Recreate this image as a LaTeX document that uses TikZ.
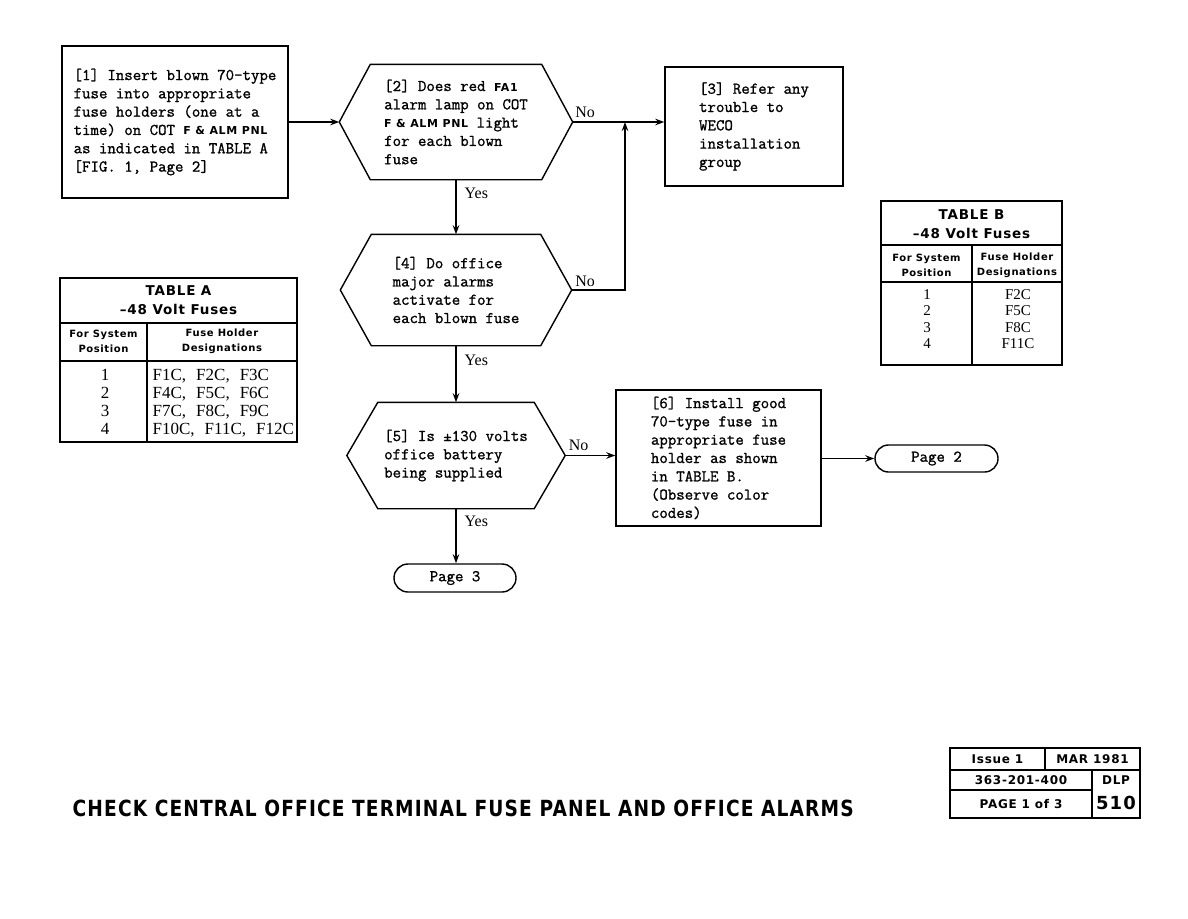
\documentclass[tikz,border=0pt]{standalone}
\usepackage{fontspec}
\usepackage{graphicx}
\usetikzlibrary{positioning,arrows.meta,shapes.misc}
\newfontfamily\hsans{DejaVu Sans}[LetterSpace=6]
\newfontfamily\tserif{Liberation Serif}
\newfontfamily\typer{Latin Modern Mono}[FakeBold=1.2]
\newcommand{\panelkey}[1]{{\hsans\bfseries\fontsize{11}{11}\selectfont #1}}
\newcommand{\csep}{,\hspace{10pt}}

\begin{document}
\begin{tikzpicture}[
  x=1pt, y=-1pt,
  line width=1.4pt,
  font=\fontsize{16.4}{18.3}\selectfont\typer,
  every node/.style={align=left},
  stepbox/.style={draw, inner sep=0pt},
  decision/.style={inner sep=0pt},
  term/.style={draw, rounded rectangle, minimum width=122pt, minimum height=28pt, inner sep=0pt},
  arrow/.style={-{Stealth[length=9pt,width=6.5pt]}},
  answer/.style={font=\fontsize{16}{16}\selectfont\tserif, inner sep=0pt},
  tabhead/.style={font=\fontsize{13.5}{19}\selectfont\hsans\bfseries, align=center, inner sep=0pt},
  colhead/.style={font=\fontsize{10}{15}\selectfont\hsans\bfseries, align=center, inner sep=0pt},
  cellA/.style={font=\fontsize{17}{18}\selectfont\tserif, inner sep=0pt},
  cellB/.style={font=\fontsize{15}{16}\selectfont\tserif, inner sep=0pt},
  stamp/.style={font=\fontsize{12}{12}\selectfont\hsans\bfseries, inner sep=0pt},
]
\useasboundingbox (0,0) rectangle (1188,918);

% ===== flow chart =====
\node[stepbox, minimum width=226pt, minimum height=152pt] (b1) at (175,122)
  {[1] Insert blown 70-type\\fuse into appropriate\\fuse holders (one at a\\time) on COT \panelkey{F \& ALM PNL}\\as indicated in TABLE A\\{}[FIG. 1, Page 2]};
\node[decision, minimum width=232pt, minimum height=114pt] (h2) at (456,122)
  {[2] Does red \panelkey{FA1}\\alarm lamp on COT\\\panelkey{F \& ALM PNL} light\\for each blown\\fuse};
\node[stepbox, minimum width=178pt, minimum height=119pt] (b3) at (754,126.5)
  {[3] Refer any\\trouble to\\WECO\\installation\\group};
\node[decision, minimum width=230pt, minimum height=110pt] (h4) at (456,290)
  {[4] Do office\\major alarms\\activate for\\each blown fuse};
\node[decision, minimum width=217pt, minimum height=105pt] (h5) at (456,455.5)
  {[5] Is ±130 volts\\office battery\\being supplied};
\node[stepbox, minimum width=205pt, minimum height=136pt] (b6) at (718.5,458)
  {[6] Install good\\70-type fuse in\\appropriate fuse\\holder as shown\\in TABLE B.\\(Observe color\\codes)};
\node[term] (p3) at (455,578) {Page 3};
\node[term, minimum width=123pt, minimum height=27pt] (p2) at (936.5,458.5) {Page 2};

\foreach \h in {h2,h4,h5}
  \draw (\h.west) -- ([xshift=31pt]\h.north west) -- ([xshift=-31pt]\h.north east)
    -- (\h.east) -- ([xshift=-31pt]\h.south east) -- ([xshift=31pt]\h.south west) -- cycle;

\coordinate (jn) at (625,122);

\draw[arrow] (b1.east) -- (b1.east -| h2.west);
\draw[arrow] (h2.east) -- (h2.east -| b3.west)
  node[answer, pos=0, above right=4pt and 2pt]{No};
\draw[arrow] (h2.south) -- node[answer, pos=0.25, right=8pt]{Yes} (h4.north);
\draw[arrow] (h4.east) -| (jn)
  node[answer, pos=0, above right=3pt and 3pt]{No};
\draw[arrow] (h4.south) -- node[answer, pos=0.26, right=8pt]{Yes} (h5.north);
\draw[arrow] (h5.east) -- (h5.east -| b6.west)
  node[answer, pos=0, above right=4pt and 3pt]{No};
\draw[arrow] (h5.south) -- node[answer, pos=0.23, right=8pt]{Yes} (h5.south |- p3.north);
\draw[arrow] (b6.east |- p2.west) -- (p2.west);

% ===== TABLE A =====
\draw (60,278) rectangle (297,442);
\draw (60,323) -- (297,323) (60,361) -- (297,361) (147,323) -- (147,442);
\node[tabhead] (tAt) at (178.5,300.5) {TABLE A\\–48 Volt Fuses};
\node[colhead] (tAh1) at (103.5,341.5) {For System\\Position};
\node[colhead] (tAh2) at (222,341.5) {Fuse Holder\\Designations};
\foreach \n/\f [count=\i] in {1/F1C\csep F2C\csep F3C, 2/F4C\csep F5C\csep F6C, 3/F7C\csep F8C\csep F9C, 4/F10C\csep F11C\csep F12C} {
  \node[cellA, anchor=base] (tAn\i) at (105,362+18*\i) {\n};
  \node[cellA, anchor=base west] (tAf\i) at (152,362+18*\i) {\f};
}

% ===== TABLE B =====
\draw (881,201) rectangle (1062,365);
\draw (881,245) -- (1062,245) (881,282) -- (1062,282) (972,245) -- (972,365);
\node[tabhead] (tBt) at (971.5,224.5) {TABLE B\\–48 Volt Fuses};
\node[colhead] (tBh1) at (926.5,265) {For System\\Position};
\node[colhead] (tBh2) at (1017,265) {Fuse Holder\\Designations};
\foreach \n/\f [count=\i] in {1/F2C, 2/F5C, 3/F8C, 4/F11C} {
  \node[cellB, anchor=base] (tBn\i) at (927,282.5+16.5*\i) {\n};
  \node[cellB, anchor=base] (tBf\i) at (1018,282.5+16.5*\i) {\f};
}

% ===== footer =====
\node[inner sep=0pt, anchor=west] (title) at (72,808)
  {\resizebox{781pt}{16.5pt}{\hsans\bfseries CHECK CENTRAL OFFICE TERMINAL FUSE PANEL AND OFFICE ALARMS}};
\draw (950,748) rectangle (1140,818);
\draw (950,770) -- (1140,770) (950,790) -- (1092,790) (1045,748) -- (1045,770) (1092,770) -- (1092,818);
\node[stamp] (iss) at (997.5,759) {Issue 1};
\node[stamp] (date) at (1092.5,759) {MAR 1981};
\node[stamp] (sect) at (1021,780) {363-201-400};
\node[stamp] (dlp) at (1116,780) {DLP};
\node[stamp] (pg) at (1021,804) {PAGE 1 of 3};
\node[stamp, font=\fontsize{18}{18}\selectfont\hsans\bfseries] (num) at (1116,803) {510};
\end{tikzpicture}
\end{document}
